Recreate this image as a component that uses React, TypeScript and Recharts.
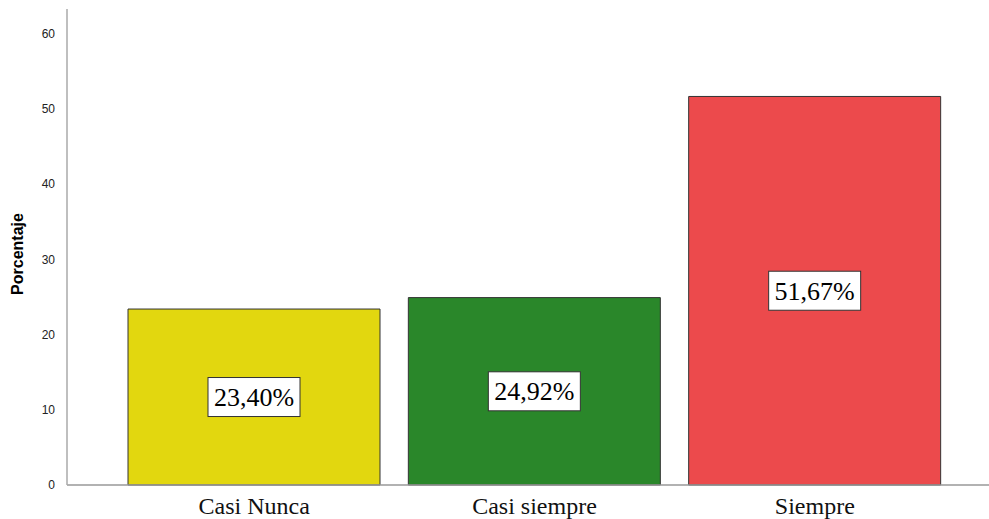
import { BarChart, Bar, XAxis, YAxis, Cell, LabelList } from "recharts";

const CATEGORIES = ["Casi Nunca", "Casi siempre", "Siempre"];
const PERCENTS = [23.4, 24.92, 51.67];
const COLORS = ["#e2d70f", "#2a872a", "#ec4a4c"];
const Y_TICKS = [0, 10, 20, 30, 40, 50, 60];

const data = CATEGORIES.map((name, i) => ({ name, value: PERCENTS[i] }));

const fmt = (v: number) => v.toFixed(2).replace(".", ",") + "%";

function BoxLabel(props: any) {
  const { x, y, width, height, value } = props;
  const text = fmt(value);
  const fontSize = 26;
  const w = text.length * 13 + 14;
  const h = 39;
  const cx = x + width / 2;
  const cy = y + height / 2;
  return (
    <g>
      <rect x={cx - w / 2} y={cy - h / 2} width={w} height={h} fill="#fff" stroke="#333" strokeWidth={1} />
      <text
        x={cx}
        y={cy}
        dy={fontSize * 0.34}
        textAnchor="middle"
        fontFamily="'Liberation Serif', 'Times New Roman', serif"
        fontSize={fontSize}
        fill="#000"
      >
        {text}
      </text>
    </g>
  );
}

function XTick(props: any) {
  const { x, y, payload } = props;
  return (
    <text
      x={x}
      y={y + 21}
      textAnchor="middle"
      fontFamily="'Liberation Serif', 'Times New Roman', serif"
      fontSize={24}
      fill="#111"
    >
      {payload.value}
    </text>
  );
}

export default function App() {
  return (
    <div style={{ position: "absolute", left: 0, top: 0, width: 989, height: 519, background: "#fff" }}>
      <BarChart
        width={989}
        height={519}
        data={data}
        margin={{ top: 9, right: 0, bottom: 0, left: 0 }}
        barSize={252}
      >
        <XAxis
          dataKey="name"
          height={34}
          padding={{ left: 47, right: 34 }}
          tickLine={false}
          axisLine={{ stroke: "#999", strokeWidth: 1.5 }}
          tick={<XTick />}
          interval={0}
        />
        <YAxis
          width={67}
          domain={[0, 63.3]}
          ticks={Y_TICKS}
          tickLine={false}
          axisLine={{ stroke: "#aaa", strokeWidth: 1.5 }}
          tickMargin={6}
          tick={{ fontFamily: "Arial, 'Liberation Sans', sans-serif", fontSize: 12, fill: "#222" }}
          label={{
            value: "Porcentaje",
            angle: -90,
            position: "insideLeft",
            dx: 12,
            dy: 7,
            style: {
              fontFamily: "Arial, 'Liberation Sans', sans-serif",
              fontSize: 16,
              fontWeight: "bold",
              fill: "#000",
              textAnchor: "middle",
            },
          }}
        />
        <Bar dataKey="value" stroke="#333" strokeWidth={1} isAnimationActive={false}>
          {data.map((d, i) => (
            <Cell key={d.name} fill={COLORS[i]} />
          ))}
          <LabelList dataKey="value" content={<BoxLabel />} />
        </Bar>
      </BarChart>
    </div>
  );
}
